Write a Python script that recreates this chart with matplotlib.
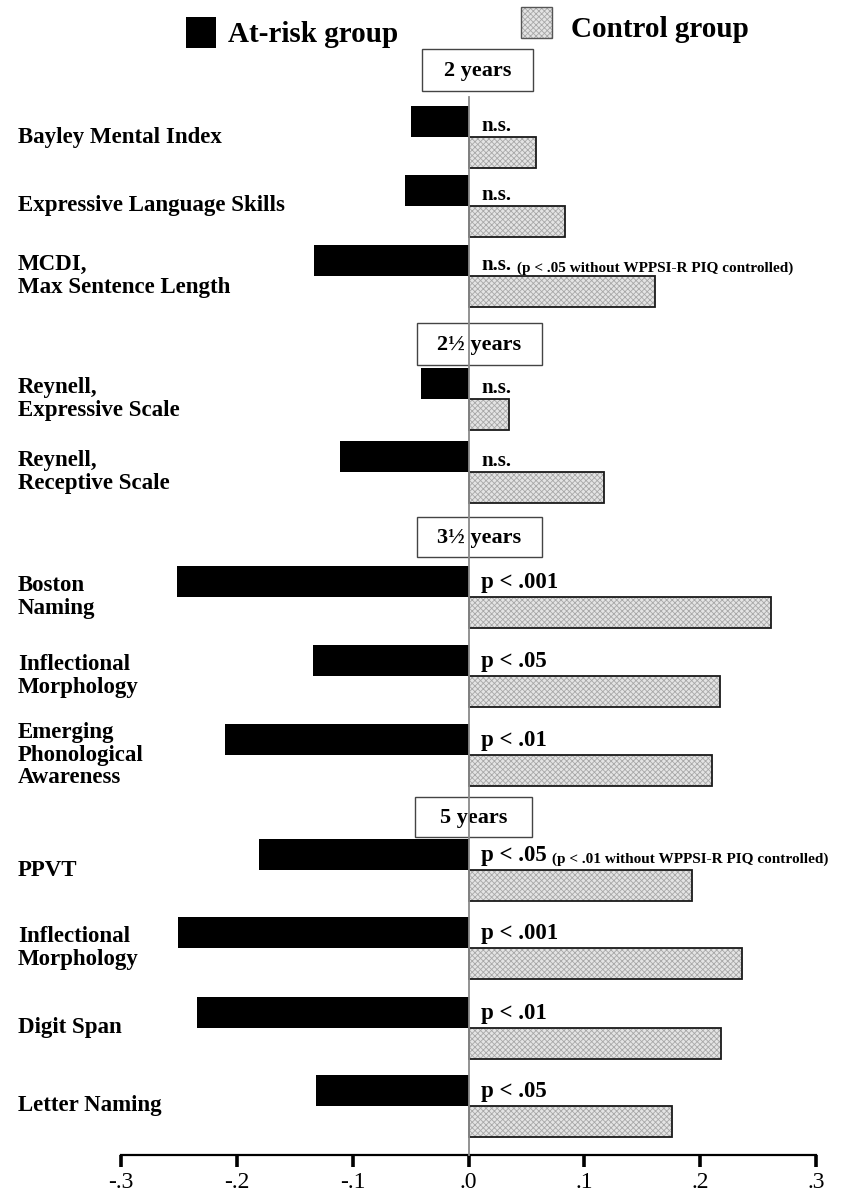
"""Effect sizes for at-risk and control children across language measures."""
import matplotlib
matplotlib.use("Agg")
import matplotlib.pyplot as plt
from matplotlib.patches import Rectangle
from matplotlib import transforms

plt.rcParams['font.family'] = ['Liberation Serif', 'DejaVu Serif']
plt.rcParams['hatch.linewidth'] = 0.6

measures = ['Bayley Mental Index',
            'Expressive Language Skills',
            'MCDI,\nMax Sentence Length',
            'Reynell,\nExpressive Scale',
            'Reynell,\nReceptive Scale',
            'Boston\nNaming',
            'Inflectional\nMorphology',
            'Emerging\nPhonological\nAwareness',
            'PPVT',
            'Inflectional\nMorphology',
            'Digit Span',
            'Letter Naming']
at_risk = [-0.050, -0.055, -0.133, -0.041, -0.111, -0.252,
           -0.134, -0.210, -0.181, -0.251, -0.234, -0.132]
control = [0.058, 0.083, 0.161, 0.035, 0.117, 0.261,
           0.217, 0.210, 0.193, 0.236, 0.218, 0.176]
signif = ['n.s.', 'n.s.', 'n.s.', 'n.s.', 'n.s.', 'p < .001',
          'p < .05', 'p < .01', 'p < .05', 'p < .001', 'p < .01', 'p < .05']
notes = ['', '', '(p < .05 without WPPSI-R PIQ controlled)', '', '', '',
         '', '', '(p < .01 without WPPSI-R PIQ controlled)', '', '', '']
ages = ['2 years', '2\u00bd years', '3\u00bd years', '5 years']
xticks = [-0.3, -0.2, -0.1, 0.0, 0.1, 0.2, 0.3]
xticklabels = ['-.3', '-.2', '-.1', '.0', '.1', '.2', '.3']

# layout (pixel rows, top-down)
W, H = 851, 1203
row_mid = [137, 206, 276, 399, 472, 597, 676, 755, 870, 948, 1028, 1106]
bar_h = 31
age_boxes = [(422, 533, 49, 91), (417, 542, 323, 365),
             (417, 542, 517, 557), (415, 532, 797, 837)]
AX_L, AX_R, AX_T, AX_B = 121, 816, 95, 1155


def fx(px):
    return px / W


def fy(py):
    return 1 - py / H


def val(px):
    # horizontal pixel -> effect size
    return -0.3 + (px - AX_L) * 0.6 / (AX_R - AX_L)


fig = plt.figure(figsize=(W / 100, H / 100), dpi=100)
ax = fig.add_axes([fx(AX_L), fy(AX_B), fx(AX_R) - fx(AX_L), fy(AX_T) - fy(AX_B)])
ax.set_xlim(-0.3, 0.3)
ax.set_ylim(AX_B, AX_T)

top_y = [m - bar_h / 2 for m in row_mid]
bot_y = [m + bar_h / 2 for m in row_mid]

ax.barh(top_y, at_risk, height=bar_h, color='black', edgecolor='none', zorder=2)
ax.barh(bot_y, control, height=bar_h, color='#e4e4e4', edgecolor='#a8a8a8',
        hatch='xxxxxx', linewidth=0, zorder=2)
ax.barh(bot_y, control, height=bar_h, fill=False, edgecolor='#1a1a1a',
        linewidth=1.3, zorder=3)

# zero reference line
ax.plot([0, 0], [97, AX_B], color='#8a8a8a', lw=1.3, zorder=6, clip_on=False)

# age group boxes
for (x0, x1, y0, y1), age in zip(age_boxes, ages):
    ax.add_patch(Rectangle((val(x0), y0), val(x1) - val(x0), y1 - y0,
                           facecolor='white', edgecolor='#444444', lw=1.0,
                           zorder=4, clip_on=False))
    ax.text((val(x0) + val(x1)) / 2, (y0 + y1) / 2 + 1, age, ha='center',
            va='center', fontsize=16, fontweight='bold', zorder=5)

# measure labels on the left
lab_tr = transforms.blended_transform_factory(fig.transFigure, ax.transData)
for m, name in zip(row_mid, measures):
    ax.text(fx(18), m, name, transform=lab_tr, ha='left', va='center',
            fontsize=16.5, fontweight='bold', linespacing=1.1)

# significance notes
for m, s, note in zip(row_mid, signif, notes):
    size = 15 if s == 'n.s.' else 16.5
    off = 6 if s == 'n.s.' else 9
    t = ax.text(val(481), m - off, s, ha='left', va='baseline',
                fontsize=size, fontweight='bold', zorder=5)
    if note:
        ax.annotate(note, xy=(1, 0), xycoords=t, xytext=(4, 0),
                    textcoords='offset points', ha='left', va='bottom',
                    fontsize=11, fontweight='bold', annotation_clip=False)

# axis styling
for side in ['left', 'top', 'right']:
    ax.spines[side].set_visible(False)
ax.spines['bottom'].set_linewidth(1.6)
ax.spines['bottom'].set_bounds(-0.3, 0.3)
ax.set_yticks([])
ax.set_xticks(xticks)
ax.set_xticklabels(xticklabels)
ax.tick_params(axis='x', direction='out', length=8.5, width=2.6, pad=4,
               labelsize=17)

# legend
fig.patches.append(Rectangle((fx(186), fy(48)), fx(30), 31 / H,
                             transform=fig.transFigure, facecolor='black',
                             edgecolor='none'))
fig.patches.append(Rectangle((fx(521), fy(38)), fx(31), 31 / H,
                             transform=fig.transFigure, facecolor='#e4e4e4',
                             edgecolor='#a8a8a8', hatch='xxxxxx', lw=0))
fig.patches.append(Rectangle((fx(521), fy(38)), fx(31), 31 / H,
                             transform=fig.transFigure, fill=False,
                             edgecolor='#555555', lw=1.0))
fig.text(fx(228), fy(42), 'At-risk group', ha='left', va='baseline',
         fontsize=21, fontweight='bold')
fig.text(fx(571), fy(37), 'Control group', ha='left', va='baseline',
         fontsize=21, fontweight='bold')

fig.savefig('out.png', dpi=100, facecolor='white')
